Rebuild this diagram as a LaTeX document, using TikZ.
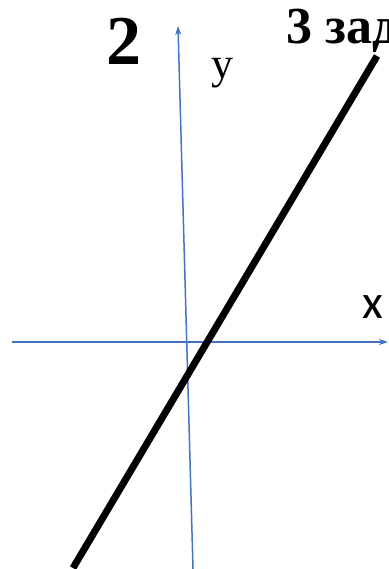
\documentclass[tikz,border=0pt]{standalone}
\usepackage{fontspec}
\setmainfont{Liberation Serif}
\newfontfamily\carl{Carlito}
\usetikzlibrary{arrows.meta}
\definecolor{axisblue}{RGB}{68,114,196}
\begin{document}
\begin{tikzpicture}[x=1pt,y=-1pt,
  axisline/.style={draw=axisblue,line width=1.5pt,-{Stealth[length=9pt,width=6pt]}},
  graphline/.style={draw=black,line width=7pt},
  lbl/.style={inner sep=0pt,anchor=base west}]
\useasboundingbox (0,0) rectangle (388,569);
\coordinate (yb) at (193,569);
\coordinate (yt) at (178,26);
\coordinate (xl) at (12,342);
\coordinate (xr) at (388,342);
\coordinate (lb) at (73,568);
\coordinate (lt) at (377,56);
\draw[axisline] (yb) -- (yt);
\draw[axisline] (xl) -- (xr);
\draw[graphline] (lb) -- (lt);
\node[lbl] (two) at (106,65) {\fontsize{70}{70}\selectfont\bfseries 2};
\node[lbl] (task) at (286,44) {\fontsize{52}{52}\selectfont\bfseries 3 зад};
\node[lbl] (ylab) at (211,79) {\fontsize{44}{44}\selectfont y};
\node[lbl] (xlab) at (362,318) {\fontsize{48}{48}\selectfont\carl x};
\end{tikzpicture}
\end{document}
